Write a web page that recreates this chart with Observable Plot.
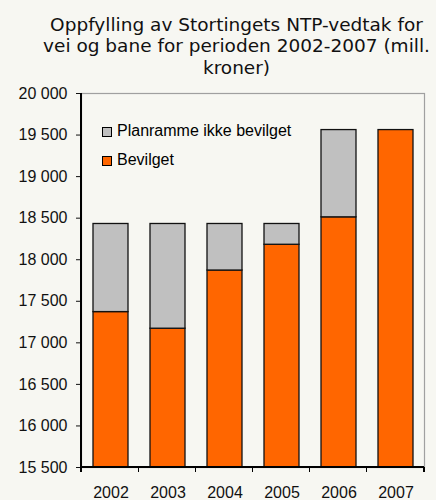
<!DOCTYPE html>
<html>
<head>
<meta charset="utf-8">
<script src="https://cdn.jsdelivr.net/npm/d3@7"></script>
<script src="https://cdn.jsdelivr.net/npm/@observablehq/plot@0.6"></script>
<style>
  html, body { margin: 0; padding: 0; background: #f7f7f2; }
  #wrap { position: relative; width: 436px; height: 500px; background: #f7f7f2; overflow: hidden; }
  #title { position: absolute; left: 236.5px; top: 14px; transform: translateX(-50%); text-align: center;
    font-family: "DejaVu Sans", Verdana, sans-serif; font-size: 18.5px; line-height: 21.3px; color: #111; white-space: nowrap; }
  #chart { position: absolute; left: 0; top: 80px; }
  .lg { position: absolute; font-family: "Liberation Sans", Arial, sans-serif; font-size: 16px; line-height: 16px; color: #000; white-space: nowrap; }
  .sw { position: absolute; width: 8px; height: 8px; border: 1px solid #000; }
</style>
</head>
<body>
<div id="wrap">
  <div id="title">Oppfylling av Stortingets NTP-vedtak for<br>vei og bane for perioden 2002-2007 (mill.<br>kroner)</div>
  <div id="chart"></div>
  <div class="sw" style="left:102px;top:127px;background:#c0c0c0"></div>
  <div class="lg" style="left:117px;top:123px">Planramme ikke bevilget</div>
  <div class="sw" style="left:102px;top:156px;background:#ff6600"></div>
  <div class="lg" style="left:117px;top:152px">Bevilget</div>
</div>
<script>
const years = ["2002", "2003", "2004", "2005", "2006", "2007"];
const bevilget = [17370, 17170, 17870, 18180, 18510, 19560];
const total = [18430, 18430, 18430, 18430, 19560, 19560];
const yTicks = [15500, 16000, 16500, 17000, 17500, 18000, 18500, 19000, 19500, 20000];

const data = years.map((year, i) => ({year, bevilget: bevilget[i], total: total[i]}));
const yMin = yTicks[0], yMax = yTicks[yTicks.length - 1];
const fmt = d => d3.format(",")(d).replace(/,/g, " ");

function axisLines(index, scales, values, dimensions) {
  const {width, height, marginLeft, marginRight, marginTop, marginBottom} = dimensions;
  const n = years.length;
  const step = (width - marginLeft - marginRight) / n;
  const xs = d3.range(n + 1).map(i => marginLeft + i * step);
  const y0 = height - marginBottom;
  const g = d3.create("svg:g").attr("stroke", "#000").attr("stroke-width", 1.2).attr("shape-rendering", "crispEdges");
  g.append("line").attr("x1", marginLeft).attr("x2", marginLeft).attr("y1", marginTop).attr("y2", y0);
  g.append("line").attr("x1", marginLeft).attr("x2", width - marginRight).attr("y1", y0).attr("y2", y0);
  g.selectAll("line.t").data(xs).join("line").attr("class", "t")
    .attr("x1", d => d).attr("x2", d => d).attr("y1", y0).attr("y2", y0 + 5);
  return g.node();
}

const chart = Plot.plot({
  width: 436,
  height: 420,
  marginTop: 13,
  marginBottom: 33,
  marginLeft: 81,
  marginRight: 12,
  style: {background: "transparent", fontFamily: "'Liberation Sans', Arial, sans-serif", fontSize: "16px", color: "#111", overflow: "visible"},
  x: {domain: years, paddingInner: 0.39, paddingOuter: 0.195, label: null},
  y: {domain: [yMin, yMax], label: null},
  marks: [
    Plot.frame({stroke: "#a0a0a0", strokeWidth: 1.2}),
    Plot.barY(data, {x: "year", y1: d => yMin, y2: "bevilget", fill: "#ff6600", stroke: "#111", strokeWidth: 1.3}),
    Plot.barY(data.filter(d => d.total > d.bevilget), {x: "year", y1: "bevilget", y2: "total", fill: "#c0c0c0", stroke: "#111", strokeWidth: 1.3}),
    Plot.axisY(yTicks, {tickSize: 5, tickPadding: 9, tickFormat: fmt, fontSize: 16}),
    Plot.axisX({tickSize: 0, tickPadding: 19, fontSize: 16}),
    axisLines
  ]
});
document.getElementById("chart").appendChild(chart);
</script>
</body>
</html>
